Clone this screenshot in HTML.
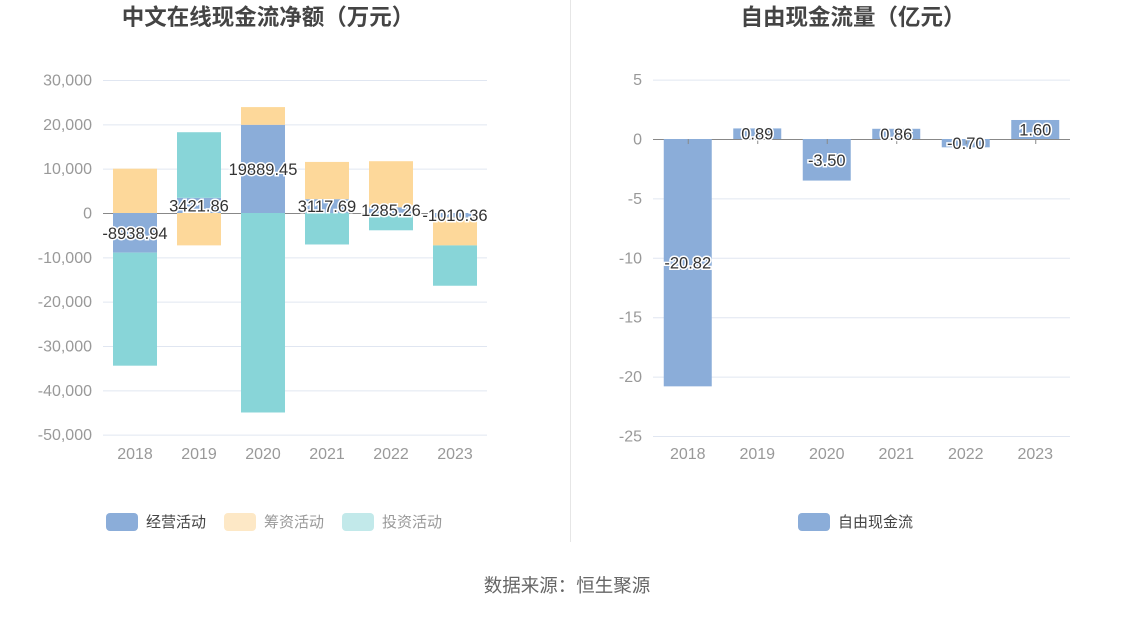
<!DOCTYPE html>
<html><head><meta charset="utf-8"><style>
body{margin:0;background:#fff;font-family:"Liberation Sans","Noto Sans CJK SC",sans-serif;}
svg text{font-family:"Liberation Sans","Noto Sans CJK SC",sans-serif;}
</style></head><body>
<svg id="c" width="1134" height="612" xmlns="http://www.w3.org/2000/svg">
<text x="268" y="25" text-anchor="middle" font-size="22.5" font-weight="bold" fill="#444">中文在线现金流净额（万元）</text>
<text x="853" y="25" text-anchor="middle" font-size="22.5" font-weight="bold" fill="#444">自由现金流量（亿元）</text>
<line x1="570.5" y1="0" x2="570.5" y2="542" stroke="#e6e6e6"/>
<text x="567" y="592" text-anchor="middle" font-size="18.5" fill="#666">数据来源：恒生聚源</text>
<g id="left"></g><g id="right"></g>
<g>
<rect x="106" y="513" width="32" height="18" rx="4" fill="#8badd9"/>
<text x="146" y="527" font-size="15" fill="#444">经营活动</text>
<rect x="224" y="513" width="32" height="18" rx="4" fill="#fde8c6"/>
<text x="264" y="527" font-size="15" fill="#999">筹资活动</text>
<rect x="342" y="513" width="32" height="18" rx="4" fill="#c2e9ea"/>
<text x="382" y="527" font-size="15" fill="#999">投资活动</text>
</g>
<g>
<rect x="798" y="513" width="32" height="18" rx="4" fill="#8badd9"/>
<text x="838" y="527" font-size="15" fill="#444">自由现金流</text>
</g>
</svg>
<script>
const years=["2018","2019","2020","2021","2022","2023"];
const operating=[-8938.94,3421.86,19889.45,3117.69,1285.26,-1010.36];
const financing=[10000,-7300,4000,8400,10400,-6300];
const investing=[-25500,14800,-45000,-7100,-3900,-9100];
const leftTicks=[30000,20000,10000,0,-10000,-20000,-30000,-40000,-50000];
const fcfYears=["2018","2019","2020","2021","2022","2023"];
const fcf=[-20.82,0.89,-3.50,0.86,-0.70,1.60];
const rightTicks=[5,0,-5,-10,-15,-20,-25];

const NS="http://www.w3.org/2000/svg";
function mk(parent,tag,attrs){const e=document.createElementNS(NS,tag);for(const k in attrs)e.setAttribute(k,attrs[k]);parent.appendChild(e);return e;}
const fmt=v=>v.toLocaleString("en-US");
const L=document.getElementById("left");
const ly=v=>213-v*(133/30000);
const lx0=103,lband=64;
const lx=i=>lx0+lband*(i+0.5);
leftTicks.forEach(t=>{
 const g=mk(L,"line",{x1:lx0,x2:487,y1:ly(t)+0.5,y2:ly(t)+0.5,stroke:t===0?"#888":"#e0e6f1"});
 
 
 const tx=mk(L,"text",{x:92,y:ly(t)+5.5,"text-anchor":"end","font-size":16,fill:"#999"});tx.textContent=fmt(t);
 
 
});
const series=[[operating,"#8badd9","operating"],[financing,"#fdd89a","financing"],[investing,"#88d5d8","investing"]];
years.forEach((y,i)=>{
 let pos=0,neg=0;
 series.forEach(([arr,col,nm])=>{
  const v=arr[i];let a,b;
  if(v>=0){a=pos;b=pos+v;pos=b;}else{a=neg;b=neg+v;neg=b;}
  const top=Math.min(ly(a),ly(b)),h=Math.abs(ly(a)-ly(b));
  const r=mk(L,"rect",{x:lx(i)-22,y:top,width:44,height:h,fill:col});
  
  
 });
 const xt=mk(L,"text",{x:lx(i),y:459,"text-anchor":"middle","font-size":16,fill:"#999"});xt.textContent=y;
 
 
});
years.forEach((y,i)=>{
 const v=operating[i];
 const t=mk(L,"text",{x:lx(i),y:ly(v/2)+6,"text-anchor":"middle","font-size":16.5,fill:"#333",stroke:"#fff","stroke-width":3,"paint-order":"stroke"});
 t.textContent=v.toFixed(2);
 
 
});
const R=document.getElementById("right");
const ry=v=>139-v*(59.4/5);
const rx0=653,rband=69.5;
const rx=i=>rx0+rband*(i+0.5);
rightTicks.forEach(t=>{
 const g=mk(R,"line",{x1:rx0,x2:1070,y1:ry(t)+0.5,y2:ry(t)+0.5,stroke:t===0?"#888":"#e0e6f1"});
 
 
 const tx=mk(R,"text",{x:642,y:ry(t)+5.5,"text-anchor":"end","font-size":16,fill:"#999"});tx.textContent=t;
 
 
});
fcfYears.forEach((y,i)=>{
 const v=fcf[i];
 const r=mk(R,"rect",{x:rx(i)-24,y:Math.min(ry(0),ry(v)),width:48,height:Math.abs(ry(v)-ry(0)),fill:"#8badd9"});
 
 
 const tk=mk(R,"line",{x1:rx(i)+0.5,x2:rx(i)+0.5,y1:139,y2:144,stroke:"#888"});
 
 
 const xt=mk(R,"text",{x:rx(i),y:459,"text-anchor":"middle","font-size":16,fill:"#999"});xt.textContent=y;
 
 
 const t=mk(R,"text",{x:rx(i),y:ry(v/2)+6,"text-anchor":"middle","font-size":16.5,fill:"#333",stroke:"#fff","stroke-width":3,"paint-order":"stroke"});
 t.textContent=v.toFixed(2);
 
 
});
</script>
</body></html>
